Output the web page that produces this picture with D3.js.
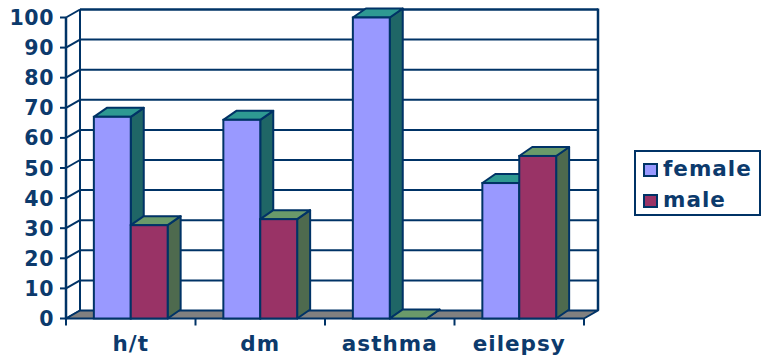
<!DOCTYPE html>
<html>
<head>
<meta charset="utf-8">
<script src="https://cdn.jsdelivr.net/npm/d3@7"></script>
<style>
  html, body { margin: 0; padding: 0; background: #ffffff; }
  svg { display: block; }
  text { font-family: "DejaVu Sans", Verdana, sans-serif; font-weight: bold; fill: #0c3a6c; }
</style>
</head>
<body>
<svg id="chart" width="763" height="363"></svg>
<script>
// Data
const categories = ["h/t", "dm", "asthma", "eilepsy"];
const seriesNames = ["female", "male"];
const femaleValues = [67, 66, 100, 45];
const maleValues = [31, 33, 0, 54];
const yTicks = [0, 10, 20, 30, 40, 50, 60, 70, 80, 90, 100];

const NAVY = "#003366";
const colors = {
  female: { front: "#9999ff", top: "#2e9992", side: "#1f6666" },
  male:   { front: "#993366", top: "#6a9a6a", side: "#4e6a4e" }
};

const svg = d3.select("#chart");

// Front plane of the plot box and the 3-D depth of the walls / bars
const xLeft = 66, xRight = 584;
const wallDx = 14, wallDy = -8;
const barDx = 13, barDy = -9;

const y = d3.scaleLinear().domain([0, 100]).range([318.5, 17.5]);
const x0 = d3.scaleBand().domain(categories).range([xLeft, xRight]).paddingInner(0).paddingOuter(0);
const x1 = d3.scaleBand().domain(seriesNames).range([0, x0.bandwidth()]).paddingInner(0).paddingOuter(0.755);

const y0 = y(0);

// Back wall
svg.append("rect")
  .attr("x", xLeft + wallDx).attr("y", y(100) + wallDy)
  .attr("width", xRight - xLeft).attr("height", y(0) - y(100))
  .attr("fill", "#ffffff");

// Gridlines on the back wall
svg.append("g").selectAll("line").data(yTicks.filter(d => d > 0)).join("line")
  .attr("x1", xLeft + wallDx).attr("x2", xRight + wallDx)
  .attr("y1", d => y(d) + wallDy).attr("y2", d => y(d) + wallDy)
  .attr("stroke", NAVY).attr("stroke-width", d => d === 100 ? 2.5 : 2);

// Gridlines on the side wall (diagonals from the axis to the back wall)
svg.append("g").selectAll("line").data(yTicks).join("line")
  .attr("x1", xLeft).attr("x2", xLeft + wallDx)
  .attr("y1", d => y(d)).attr("y2", d => y(d) + wallDy)
  .attr("stroke", NAVY).attr("stroke-width", 2);

// Back wall edges
svg.append("line")
  .attr("x1", xLeft + wallDx).attr("x2", xLeft + wallDx)
  .attr("y1", y(100) + wallDy).attr("y2", y0 + wallDy)
  .attr("stroke", NAVY).attr("stroke-width", 2);
svg.append("line")
  .attr("x1", xRight + wallDx).attr("x2", xRight + wallDx)
  .attr("y1", y(100) + wallDy - 1).attr("y2", y0 + wallDy)
  .attr("stroke", NAVY).attr("stroke-width", 2.5);

// Floor
svg.append("polygon")
  .attr("points", [
    [xLeft, y0], [xLeft + wallDx, y0 + wallDy],
    [xRight + wallDx, y0 + wallDy], [xRight, y0]
  ].map(p => p.join(",")).join(" "))
  .attr("fill", "#808080").attr("stroke", NAVY).attr("stroke-width", 2)
  .attr("stroke-linejoin", "round");

// Value axis
svg.append("line")
  .attr("x1", xLeft).attr("x2", xLeft)
  .attr("y1", y(100)).attr("y2", y0 + 1)
  .attr("stroke", NAVY).attr("stroke-width", 2.5);
svg.append("g").selectAll("line").data(yTicks).join("line")
  .attr("x1", xLeft - 6).attr("x2", xLeft)
  .attr("y1", d => y(d)).attr("y2", d => y(d))
  .attr("stroke", NAVY).attr("stroke-width", 2);
svg.append("g").selectAll("text").data(yTicks).join("text")
  .attr("x", 54).attr("y", d => y(d) + 7.5)
  .attr("text-anchor", "end")
  .style("font-size", "20.5px").style("letter-spacing", "0.6px")
  .text(d => d);

// Category axis ticks and labels
const catEdges = categories.map(c => x0(c)).concat([xRight]);
svg.append("g").selectAll("line").data(catEdges).join("line")
  .attr("x1", d => d).attr("x2", d => d)
  .attr("y1", y0).attr("y2", y0 + 7)
  .attr("stroke", NAVY).attr("stroke-width", 2);
svg.append("g").selectAll("text").data(categories).join("text")
  .attr("x", d => x0(d) + x0.bandwidth() / 2)
  .attr("y", 351)
  .attr("text-anchor", "middle")
  .style("font-size", "21.5px").style("letter-spacing", "1px")
  .text(d => d);

// 3-D bars: front face, top face, right side face
const bars = [];
categories.forEach((c, i) => {
  bars.push({ cat: c, series: "female", value: femaleValues[i] });
  bars.push({ cat: c, series: "male", value: maleValues[i] });
});

const barG = svg.append("g");
bars.forEach(b => {
  const xa = x0(b.cat) + x1(b.series);
  const xb = xa + x1.bandwidth();
  const yt = y(b.value);
  const col = colors[b.series];
  const g = barG.append("g");
  const pts = arr => arr.map(p => p.join(",")).join(" ");
  // side
  g.append("polygon")
    .attr("points", pts([[xb, yt], [xb + barDx, yt + barDy], [xb + barDx, y0 + barDy], [xb, y0]]))
    .attr("fill", col.side).attr("stroke", NAVY).attr("stroke-width", 2).attr("stroke-linejoin", "round");
  // top
  g.append("polygon")
    .attr("points", pts([[xa, yt], [xa + barDx, yt + barDy], [xb + barDx, yt + barDy], [xb, yt]]))
    .attr("fill", col.top).attr("stroke", NAVY).attr("stroke-width", 2).attr("stroke-linejoin", "round");
  // front
  g.append("rect")
    .attr("x", xa).attr("y", yt)
    .attr("width", xb - xa).attr("height", y0 - yt)
    .attr("fill", col.front).attr("stroke", NAVY).attr("stroke-width", 2);
});

// Legend
const legend = svg.append("g");
legend.append("rect")
  .attr("x", 635).attr("y", 151).attr("width", 125).attr("height", 64)
  .attr("fill", "#ffffff").attr("stroke", NAVY).attr("stroke-width", 2);
seriesNames.forEach((s, i) => {
  legend.append("rect")
    .attr("x", 644).attr("y", 164 + i * 31).attr("width", 13).attr("height", 12)
    .attr("fill", colors[s].front).attr("stroke", NAVY).attr("stroke-width", 2);
  legend.append("text")
    .attr("x", 663).attr("y", 176 + i * 31)
    .style("font-size", "21.5px").style("letter-spacing", "1px")
    .text(s);
});
</script>
</body>
</html>
